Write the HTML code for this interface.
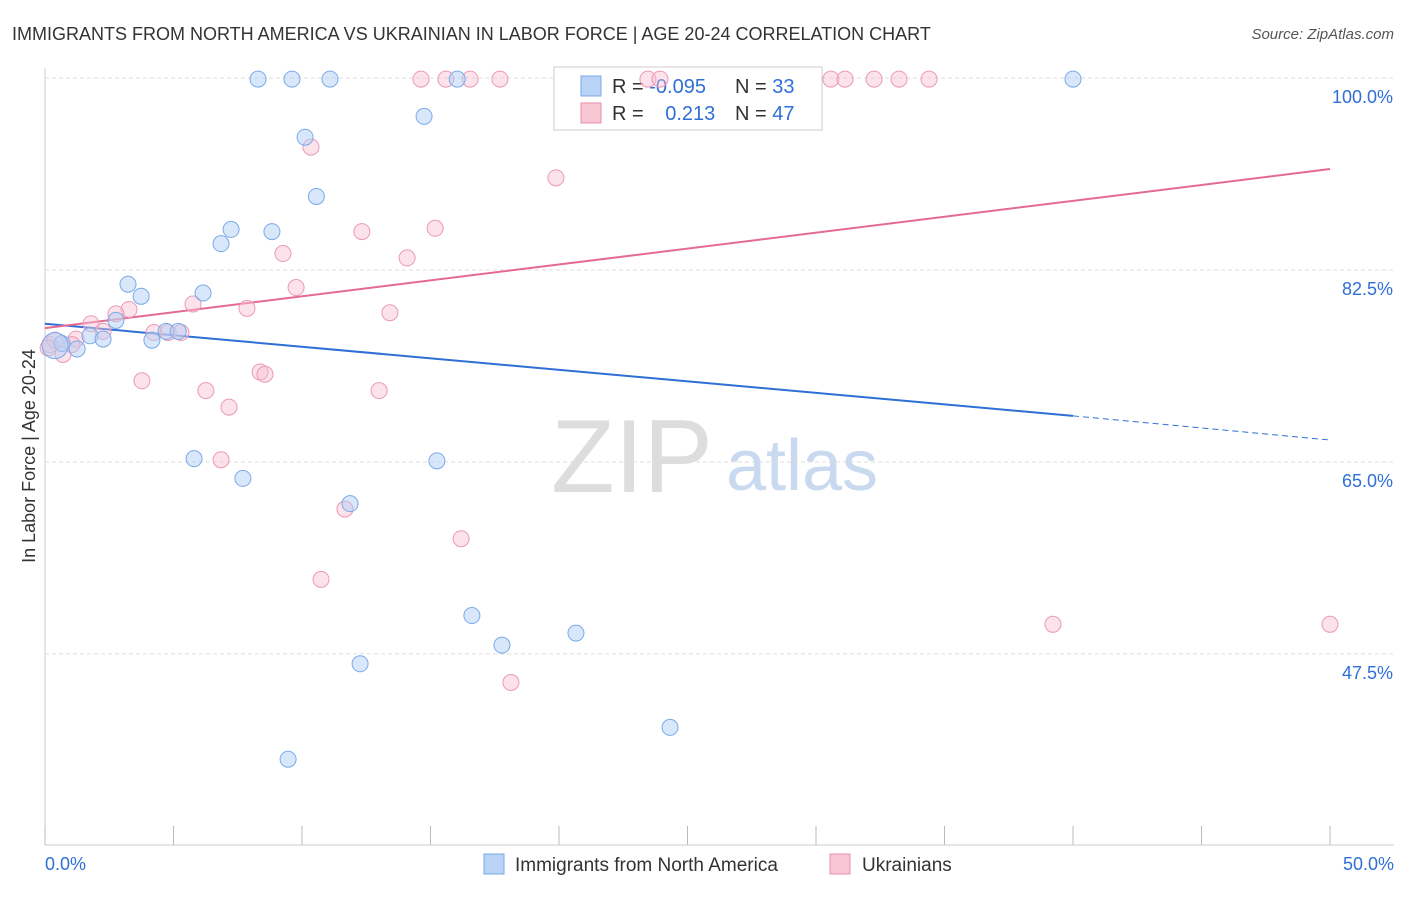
<!DOCTYPE html>
<html><head><meta charset="utf-8"><style>
body{margin:0;background:#fff;font-family:"Liberation Sans",sans-serif;}
svg text{font-family:"Liberation Sans",sans-serif;}
</style></head><body>
<svg id="c" width="1406" height="892" xmlns="http://www.w3.org/2000/svg">
<text x="12" y="40" font-size="18" fill="#333">IMMIGRANTS FROM NORTH AMERICA VS UKRAINIAN IN LABOR FORCE | AGE 20-24 CORRELATION CHART</text>
<text x="1394" y="39" font-size="15" fill="#555" text-anchor="end" font-style="italic">Source: ZipAtlas.com</text>
<text x="35" y="456" font-size="18" fill="#333" text-anchor="middle" transform="rotate(-90 35 456)">In Labor Force | Age 20-24</text>
<g><text x="632" y="492" font-size="104" fill="#ddd" text-anchor="middle" font-family="Liberation Serif">ZIP</text><text x="802" y="490" font-size="72" fill="#c9d9f0" text-anchor="middle">atlas</text></g>
<g id="grid"></g><g id="axes"></g><g id="lines"></g>
<g>
<rect x="554" y="67" width="268" height="63" fill="#fff" stroke="#ccc"/>
<rect x="581" y="76" width="20" height="20" fill="#b8d3f5" stroke="#7aaae8"/>
<rect x="581" y="103" width="20" height="20" fill="#f9c6d4" stroke="#eb8fab"/>
<text x="612" y="93" font-size="20" fill="#333">R = <tspan fill="#2f6fd6">-0.095</tspan></text>
<text x="735" y="93" font-size="20" fill="#333">N = <tspan fill="#2f6fd6">33</tspan></text>
<text x="612" y="120" font-size="20" fill="#333">R = <tspan fill="#2f6fd6" dx="16">0.213</tspan></text>
<text x="735" y="120" font-size="20" fill="#333">N = <tspan fill="#2f6fd6">47</tspan></text>
</g>
<g id="pts"></g>
<g>
<rect x="484" y="854" width="20" height="20" fill="#b8d3f5" stroke="#7aaae8"/>
<text x="515" y="871" font-size="19" fill="#333">Immigrants from North America</text>
<rect x="830" y="854" width="20" height="20" fill="#f9c6d4" stroke="#eb8fab"/>
<text x="862" y="871" font-size="19" fill="#333">Ukrainians</text>
</g>
</svg>
<script>
const yTicks=[47.5,65.0,82.5,100.0];
const xTickVals=[0,5,10,15,20,25,30,35,40,45,50];
const blueX=[8.29,9.61,11.09,16.04,40.0,14.75,10.12,10.56,7.24,6.85,8.83,3.23,3.74,6.15,2.76,1.75,2.26,4.16,4.71,5.18,1.25,0.66,0.39,5.80,15.25,7.70,11.87,16.61,17.78,20.66,12.26,24.32,9.46];
const blueY=[99.9,99.9,99.9,99.9,99.9,96.5,94.6,89.2,86.2,84.9,86.0,81.2,80.1,80.4,77.9,76.5,76.2,76.1,76.9,76.9,75.3,75.8,75.6,65.3,65.1,63.5,61.2,51.0,48.3,49.4,46.6,40.8,37.9];
const pinkX=[14.63,15.60,16.54,17.70,23.46,23.93,30.58,31.13,32.26,33.23,34.40,10.35,19.88,12.33,15.18,9.26,14.09,9.77,5.76,7.86,13.42,3.27,2.76,1.79,2.26,4.24,4.79,5.29,1.21,0.70,0.19,3.77,6.26,8.37,8.56,13.0,7.16,6.85,11.67,16.19,10.74,39.22,50.0,18.13,0.39,0.12,1.05];
const pinkY=[99.9,99.9,99.9,99.9,99.9,99.9,99.9,99.9,99.9,99.9,99.9,93.7,90.9,86.0,86.3,84.0,83.6,80.9,79.4,79.0,78.6,78.9,78.5,77.6,76.9,76.8,76.8,76.8,76.2,74.8,75.7,72.4,71.5,73.2,73.0,71.5,70.0,65.2,60.7,58.0,54.3,50.2,50.2,44.9,76.1,75.4,75.7];
const blueTrend=[77.6,69.2,67.0];
const pinkTrend=[77.2,91.7];
const NS='http://www.w3.org/2000/svg';
const X=v=>45+v*25.7, Y=v=>78+(100-v)*10.97;
function mk(t,a,p){const e=document.createElementNS(NS,t);for(const k in a)e.setAttribute(k,a[k]);document.getElementById(p).appendChild(e);return e;}
yTicks.forEach(t=>{
 const g=mk('line',{x1:45,x2:1394,y1:Y(t),y2:Y(t),stroke:'#ddd','stroke-dasharray':'4 3'},'grid');
 
 
 const l=mk('text',{x:1393,y:Y(t)+25,'font-size':18,fill:'#2f6fd6','text-anchor':'end'},'axes');
 l.textContent=t.toFixed(1)+'%';
 
 
});
mk('line',{x1:45,x2:45,y1:68,y2:845,stroke:'#ccc'},'axes');
mk('line',{x1:45,x2:1394,y1:845,y2:845,stroke:'#ccc'},'axes');
xTickVals.forEach(t=>{
 const k=mk('line',{x1:X(t),x2:X(t),y1:826,y2:845,stroke:'#bbb'},'axes');
 
 
});
[[0,'0.0%','start',45],[50,'50.0%','end',1394]].forEach(([v,s,a,x])=>{
 const l=mk('text',{x:x,y:870,'font-size':18,fill:'#2f6fd6','text-anchor':a},'axes');
 l.textContent=s;
 
 
});
let b1=mk('line',{x1:X(0),y1:Y(blueTrend[0]),x2:X(40),y2:Y(blueTrend[1]),stroke:'#2f6fd6','stroke-width':2},'lines');


let b2=mk('line',{x1:X(40),y1:Y(blueTrend[1]),x2:X(50),y2:Y(blueTrend[2]),stroke:'#2f6fd6','stroke-width':1,'stroke-dasharray':'6 4'},'lines');


let p1=mk('line',{x1:X(0),y1:Y(pinkTrend[0]),x2:X(50),y2:Y(pinkTrend[1]),stroke:'#e56a93','stroke-width':2},'lines');


pinkX.forEach((x,i)=>{
 const c=mk('circle',{cx:X(x),cy:Y(pinkY[i]),r:8,fill:'rgba(249,190,210,0.45)',stroke:'#eb9ab4','stroke-width':1},'pts');
 
 
});
blueX.forEach((x,i)=>{
 const c=mk('circle',{cx:X(x),cy:Y(blueY[i]),r:i==22?13:8,fill:'rgba(180,208,245,0.5)',stroke:'#7aaae8','stroke-width':1},'pts');
 
 
});
</script>
</body></html>
